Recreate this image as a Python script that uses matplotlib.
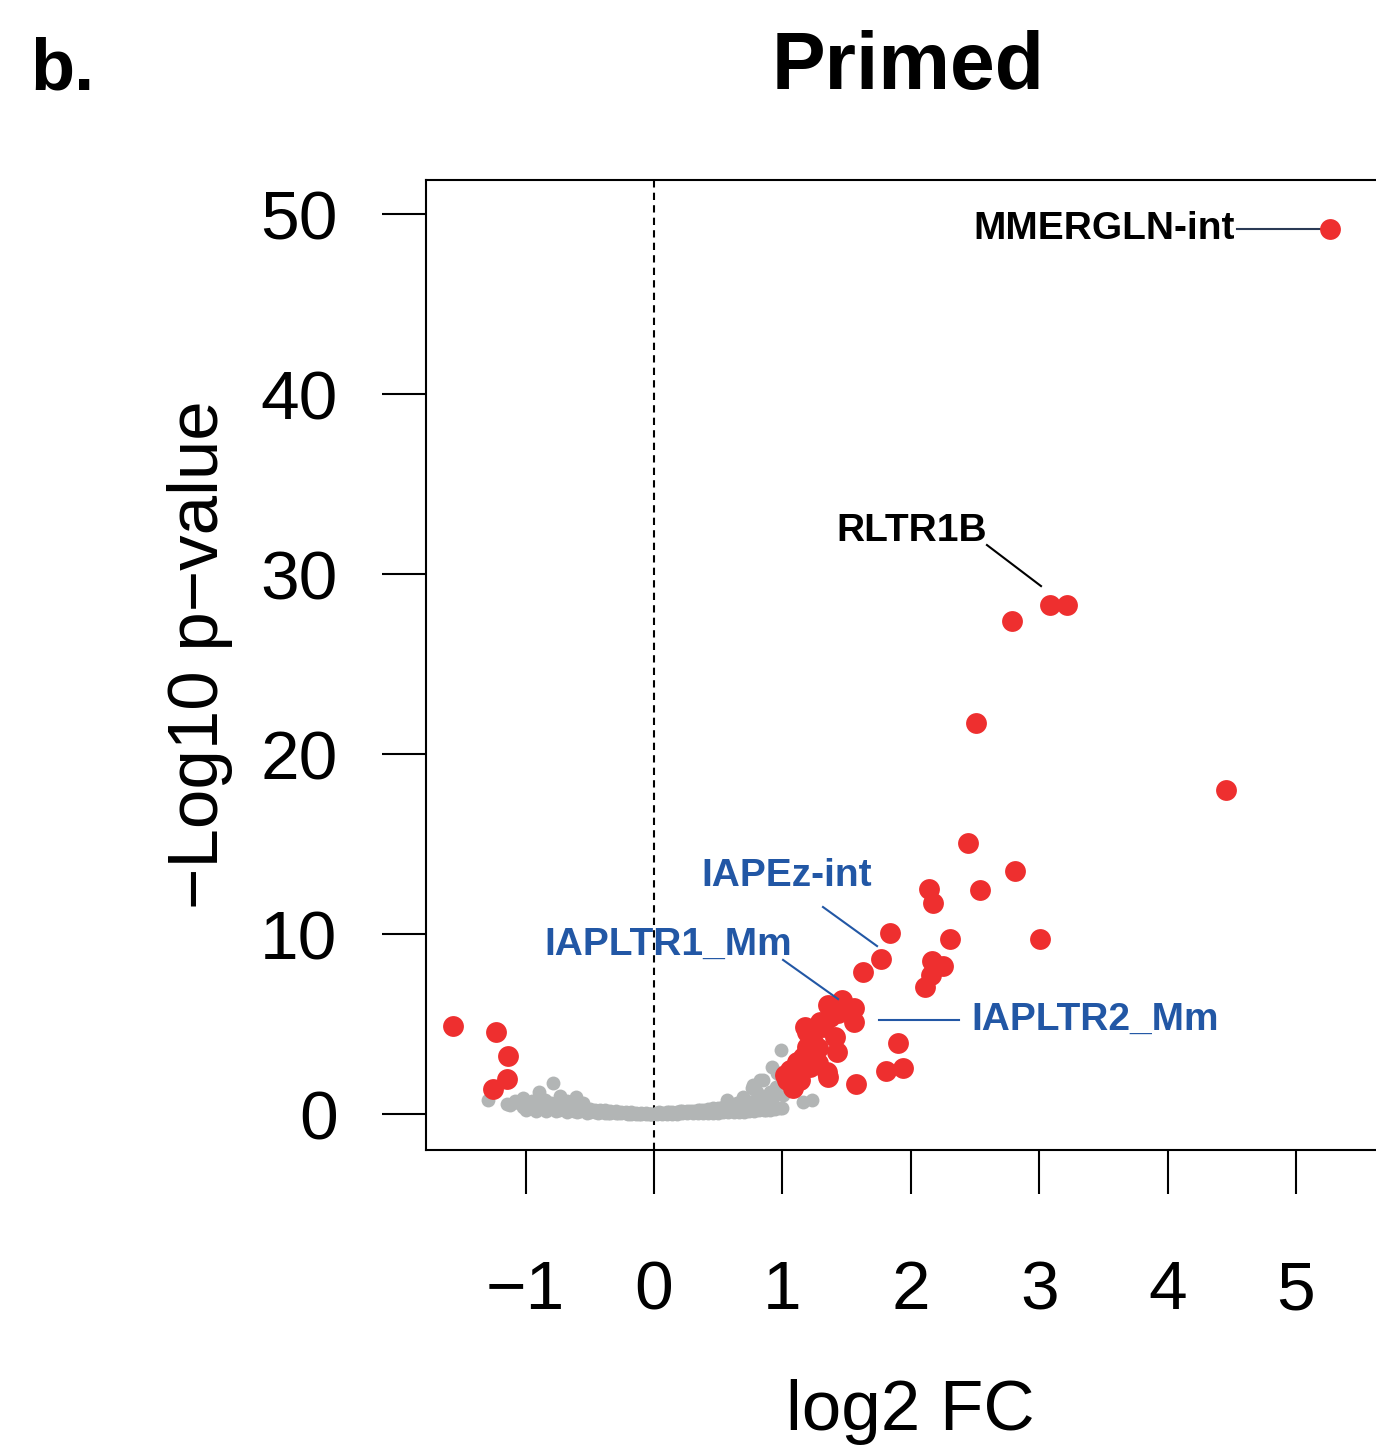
import numpy as np
import matplotlib
matplotlib.use("Agg")
import matplotlib.pyplot as plt

plt.rcParams['font.family'] = ['Liberation Sans', 'DejaVu Sans']

# significant repeats (red)
red_x = [5.265, 3.084, 3.217, 2.788, 2.508, 4.455, 2.445, 2.811, 2.142, 2.173,
         2.539, 1.838, 2.305, 3.006, 1.768, 2.165, 2.251, 1.628, 2.157, 2.111,
         1.900, 1.939, 1.807, 1.573,
         -1.565, -1.230, -1.137, -1.145, -1.254,
         1.464, 1.355, 1.558, 1.558, 1.371, 1.293, 1.192, 1.410, 1.425, 1.277,
         1.192, 1.160, 1.347, 1.277, 1.355, 1.059, 1.036, 1.083, 1.114, 1.215,
         1.238, 1.316, 1.433, 1.176, 1.020, 1.137]
red_y = [49.17, 28.28, 28.28, 27.39, 21.72, 18.00, 15.06, 13.50, 12.50, 11.72,
         12.44, 10.06, 9.72, 9.72, 8.61, 8.50, 8.22, 7.89, 7.72, 7.06,
         3.94, 2.56, 2.39, 1.67,
         4.89, 4.56, 3.22, 1.94, 1.39,
         6.33, 6.06, 5.89, 5.11, 5.39, 5.11, 4.56, 4.28, 3.44, 3.67,
         3.72, 3.17, 2.33, 2.83, 2.06, 2.44, 1.89, 1.44, 2.89, 2.61,
         4.00, 4.83, 5.61, 4.83, 2.17, 1.89]

# non-significant repeats (grey)
grey_x = [-1.29, -1.145, -1.02, -0.99, -0.896, -0.787, -0.732, -0.607, -0.68, -0.85,
          -0.95, -0.93, -0.80, -0.55, -1.08, -1.12, -1.05,
          -1.02, -0.98, -0.94, -0.90, -0.86, -0.82, -0.78, -0.74, -0.70, -0.66,
          -0.62, -0.58, -0.54, -0.50, -0.46, -0.42, -0.38, -0.34, -0.30, -0.26,
          -0.22, -0.18, -0.14, -0.10, -0.06, -0.02,
          -1.02, -0.98, -0.94, -0.90, -0.86, -0.82, -0.78, -0.74, -0.70, -0.66,
          -0.62, -0.58, -0.54, -0.50, -0.46, -0.42, -0.38, -0.34, -0.30, -0.26,
          -0.22, -0.18, -0.14, -0.10, -0.06, -0.02,
          -1.00, -0.92, -0.84, -0.76, -0.68, -0.60, -0.52, -0.44, -0.36, -0.28,
          -0.20, -0.12, -0.04,
          0.02, 0.06, 0.10, 0.14, 0.18, 0.22, 0.26, 0.30, 0.34, 0.38,
          0.42, 0.46, 0.50, 0.54, 0.58, 0.62, 0.66, 0.70, 0.74, 0.78,
          0.82, 0.86, 0.90, 0.94, 0.98,
          0.02, 0.06, 0.10, 0.14, 0.18, 0.22, 0.26, 0.30, 0.34, 0.38,
          0.42, 0.46, 0.50, 0.54, 0.58, 0.62, 0.66, 0.70, 0.74, 0.78,
          0.82, 0.86, 0.90, 0.94, 0.98,
          0.04, 0.12, 0.20, 0.28, 0.36, 0.44, 0.52, 0.60, 0.68, 0.76,
          0.84, 0.92,
          0.771, 0.826, 0.966, 1.005, 0.997, 1.16, 1.23, 0.872, 0.826, 0.693,
          0.569, 0.99, 0.849, 0.763, 0.958, 0.709, 0.92, 0.95, 0.90, 0.80, 0.65]
grey_y = [0.78, 0.55, 0.89, 0.65, 1.22, 1.72, 1.00, 0.94, 0.70, 0.80,
          0.75, 0.55, 0.60, 0.60, 0.70, 0.50, 0.60,
          0.40, 0.38, 0.35, 0.33, 0.31, 0.29, 0.27, 0.25, 0.23, 0.21,
          0.19, 0.17, 0.15, 0.13, 0.11, 0.10, 0.08, 0.07, 0.05, 0.04,
          0.03, 0.02, 0.02, 0.01, 0.01, 0.00,
          0.60, 0.55, 0.55, 0.50, 0.50, 0.45, 0.45, 0.42, 0.40, 0.38,
          0.35, 0.32, 0.30, 0.27, 0.25, 0.22, 0.20, 0.18, 0.15, 0.13,
          0.11, 0.09, 0.07, 0.05, 0.04, 0.02,
          0.20, 0.18, 0.16, 0.14, 0.12, 0.10, 0.08, 0.06, 0.04, 0.03,
          0.02, 0.01, 0.00,
          0.00, 0.01, 0.01, 0.02, 0.02, 0.03, 0.03, 0.04, 0.05, 0.05,
          0.06, 0.07, 0.08, 0.09, 0.10, 0.11, 0.12, 0.13, 0.15, 0.17,
          0.20, 0.22, 0.25, 0.30, 0.35,
          0.05, 0.07, 0.09, 0.11, 0.13, 0.15, 0.17, 0.19, 0.21, 0.24,
          0.27, 0.31, 0.36, 0.40, 0.45, 0.50, 0.55, 0.60, 0.65, 0.70,
          0.80, 0.95, 1.10, 1.30, 1.60,
          0.10, 0.12, 0.14, 0.16, 0.20, 0.25, 0.30, 0.36, 0.42, 0.48,
          0.55, 0.70,
          1.61, 1.89, 2.28, 1.06, 0.33, 0.67, 0.78, 0.22, 0.89, 0.94,
          0.78, 3.56, 1.89, 1.44, 2.28, 0.78, 2.60, 1.50, 1.20, 1.20, 0.60]

x_ticks = [-1, 0, 1, 2, 3, 4, 5]
y_ticks = [0, 10, 20, 30, 40, 50]

red = '#ee2f2f'
grey = '#b2b5b5'
blue = '#2257a5'

fig = plt.figure(figsize=(13.76, 14.56), dpi=100)
ax = fig.add_axes([0.30959, 0.21016, 0.70785, 0.66621])

ax.scatter(grey_x, grey_y, s=100, color=grey, linewidths=0, zorder=2)
ax.scatter(red_x, red_y, s=225, color=red, linewidths=0, zorder=3)
ax.axvline(0, color='black', lw=1.5, ls=(0, (3.5, 2.5)), zorder=1)

ax.set_xlim(-1.776, 5.81)
ax.set_ylim(-2.0, 51.89)
ax.set_xticks(x_ticks)
ax.set_yticks(y_ticks)
ax.tick_params(direction='out', length=31.7, width=1.5, labelsize=50)
ax.tick_params(axis='x', pad=47)
ax.tick_params(axis='y', pad=32)
for sp in ax.spines.values():
    sp.set_linewidth(1.5)

# labels for selected repeats
ax.text(4.525, 49.17, 'MMERGLN-int', ha='right', va='center', fontsize=28, fontweight='bold', color='black')
ax.plot([4.54, 5.25], [49.17, 49.17], color='#2a3a55', lw=1.5, zorder=2)
ax.text(2.005, 32.4, 'RLTR1B', ha='center', va='center', fontsize=28, fontweight='bold', color='black')
ax.plot([2.593, 3.014], [31.61, 29.33], color='black', lw=1.5, zorder=2)
ax.text(1.036, 13.25, 'IAPEz-int', ha='center', va='center', fontsize=28, fontweight='bold', color=blue)
ax.plot([1.316, 1.737], [11.5, 9.33], color=blue, lw=1.5, zorder=2)
ax.text(0.113, 9.42, 'IAPLTR1_Mm', ha='center', va='center', fontsize=28, fontweight='bold', color=blue)
ax.plot([1.005, 1.433], [8.56, 6.39], color=blue, lw=1.5, zorder=4)
ax.text(2.469, 5.25, 'IAPLTR2_Mm', ha='left', va='center', fontsize=28, fontweight='bold', color=blue)
ax.plot([1.752, 2.375], [5.22, 5.22], color=blue, lw=1.5, zorder=2)

fig.text(0.6599, 1 - 89 / 1456, 'Primed', ha='center', va='baseline', fontsize=58, fontweight='bold')
fig.text(30 / 1376, 1 - 89 / 1456, 'b.', ha='left', va='baseline', fontsize=52, fontweight='bold')
fig.text(910 / 1376, 1 - 1430 / 1456, 'log2 FC', ha='center', va='baseline', fontsize=51)
fig.text(200 / 1376, 1 - 655 / 1456, '\u2212Log10 p\u2212value', ha='center', va='center',
         rotation=90, fontsize=51)

fig.savefig('out.png', dpi=100)
